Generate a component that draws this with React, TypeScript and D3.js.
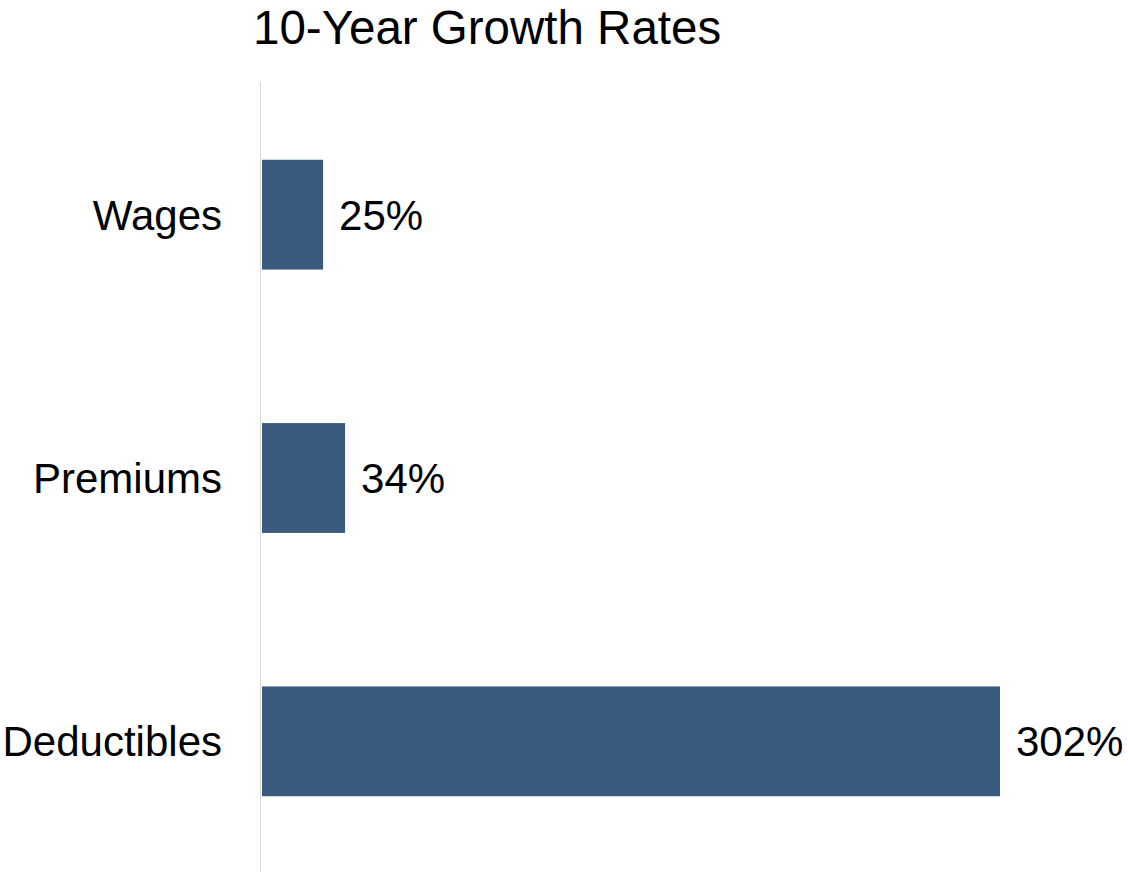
import React from "react";
import * as d3 from "d3";

const categories: string[] = ["Wages", "Premiums", "Deductibles"];
const values: number[] = [25, 34, 302];
const valueLabels: string[] = ["25%", "34%", "302%"];
const title = "10-Year Growth Rates";

const W = 1128;
const H = 872;
const FONT = "'Liberation Sans', Arial, sans-serif";

export default function App() {
  const y = d3
    .scaleBand<string>()
    .domain(categories)
    .range([83, 873])
    .paddingInner(0.583)
    .paddingOuter(0.2915);
  const x = d3
    .scaleLinear()
    .domain([0, d3.max(values) as number])
    .range([262, 1000]);

  return (
    <svg
      width={W}
      height={H}
      style={{ position: "absolute", left: 0, top: 0, display: "block", background: "#fff" }}
    >
      <text x={253} y={43.5} fontFamily={FONT} fontSize={47.5} fill="#000">
        {title}
      </text>
      <line x1={260.5} x2={260.5} y1={82} y2={872} stroke="#d9d9d9" strokeWidth={1} />
      {categories.map((c, i) => {
        const yy = y(c) as number;
        const bw = y.bandwidth();
        const cy = yy + bw / 2;
        return (
          <g key={c}>
            <rect x={x(0)} y={yy} width={x(values[i]) - x(0)} height={bw} fill="#3a5a7e" />
            <text
              x={222}
              y={cy + 15}
              textAnchor="end"
              fontFamily={FONT}
              fontSize={42}
              fill="#000"
            >
              {c}
            </text>
            <text x={x(values[i]) + 16} y={cy + 15} fontFamily={FONT} fontSize={42} fill="#000">
              {valueLabels[i]}
            </text>
          </g>
        );
      })}
    </svg>
  );
}
